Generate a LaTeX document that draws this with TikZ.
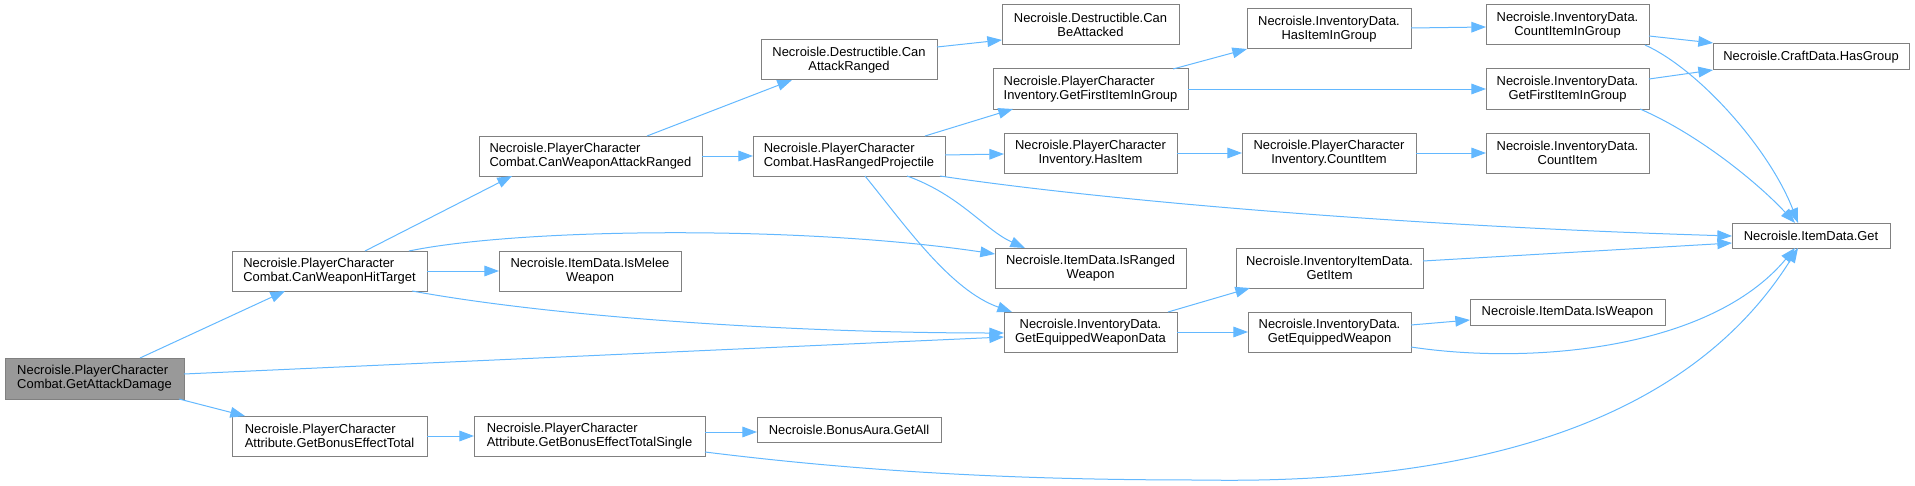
\documentclass[tikz,border=0pt]{standalone}
\usepackage{fontspec}
\setmainfont{Liberation Sans}
\usetikzlibrary{arrows.meta}
\definecolor{edgec}{HTML}{63B8FF}
\definecolor{boxc}{HTML}{808080}
\definecolor{rootc}{HTML}{999999}
\begin{document}
\begin{tikzpicture}[x=0.75pt,y=-0.75pt,
  fn/.style={draw=boxc, line width=0.75pt, fill=white, inner sep=0pt, outer sep=0pt,
    font=\fontsize{9.7}{10.3}\selectfont, align=center},
  fnl/.style={fn, align=left},
  sz/.style 2 args={minimum width=#1*0.75pt, minimum height=#2*0.75pt},
  edge/.style={draw=edgec, line width=0.75pt, -{Triangle[length=11pt,width=8pt]}}]
\useasboundingbox (0,0) rectangle (1915,485);

% nodes
\node[fnl, sz={179}{41}, fill=rootc] (gad) at (94.5,378.5) {Necroisle.PlayerCharacter\\Combat.GetAttackDamage};
\node[fnl, sz={195}{40}] (cwht) at (329.5,271) {Necroisle.PlayerCharacter\\Combat.CanWeaponHitTarget};
\node[fnl, sz={195}{40}] (gbet) at (329.5,436) {Necroisle.PlayerCharacter\\Attribute.GetBonusEffectTotal};
\node[fnl, sz={223}{40}] (cwar) at (590.5,156) {Necroisle.PlayerCharacter\\Combat.CanWeaponAttackRanged};
\node[fn, sz={176}{40}] (dcar) at (849,60) {Necroisle.Destructible.Can\\AttackRanged};
\node[fnl, sz={192}{40}] (hrp) at (849,156) {Necroisle.PlayerCharacter\\Combat.HasRangedProjectile};
\node[fn, sz={182}{40}] (melee) at (590,271) {Necroisle.ItemData.IsMelee\\Weapon};
\node[fnl, sz={231}{40}] (gbets) at (589.5,436) {Necroisle.PlayerCharacter\\Attribute.GetBonusEffectTotalSingle};
\node[fn, sz={184}{25}] (getall) at (849,429.5) {Necroisle.BonusAura.GetAll};
\node[fn, sz={177}{40}] (cba) at (1090.5,25) {Necroisle.Destructible.Can\\BeAttacked};
\node[fnl, sz={195}{40}] (pgfiig) at (1090.5,89) {Necroisle.PlayerCharacter\\Inventory.GetFirstItemInGroup};
\node[fn, sz={173}{40}] (phas) at (1090.5,153) {Necroisle.PlayerCharacter\\Inventory.HasItem};
\node[fn, sz={191}{40}] (irw) at (1090.5,268) {Necroisle.ItemData.IsRanged\\Weapon};
\node[fn, sz={173}{40}] (gewd) at (1090.5,332) {Necroisle.InventoryData.\\GetEquippedWeaponData};
\node[fn, sz={164}{40}] (hiig) at (1329,29) {Necroisle.InventoryData.\\HasItemInGroup};
\node[fn, sz={174}{40}] (pcount) at (1329,153) {Necroisle.PlayerCharacter\\Inventory.CountItem};
\node[fn, sz={187}{40}] (getitem) at (1329.5,268) {Necroisle.InventoryItemData.\\GetItem};
\node[fn, sz={163}{40}] (gew) at (1329.5,332) {Necroisle.InventoryData.\\GetEquippedWeapon};
\node[fn, sz={163}{40}] (ciig) at (1567.5,25) {Necroisle.InventoryData.\\CountItemInGroup};
\node[fn, sz={163}{40}] (igfiig) at (1567.5,89) {Necroisle.InventoryData.\\GetFirstItemInGroup};
\node[fn, sz={163}{40}] (icount) at (1567.5,153) {Necroisle.InventoryData.\\CountItem};
\node[fn, sz={195}{26}] (isweapon) at (1567.5,312) {Necroisle.ItemData.IsWeapon};
\node[fn, sz={196}{26}] (hasgroup) at (1811,57) {Necroisle.CraftData.HasGroup};
\node[fn, sz={158}{25}] (get) at (1811,235.5) {Necroisle.ItemData.Get};

% edges
\draw[edge] (gad.north -| 140,0) -- (cwht.south -| 285,0);
\draw[edge] (gad.east |- 0,374) -- (gewd.west |- 0,337);
\draw[edge] (gad.south -| 179,0) -- (gbet.north -| 245,0);
\draw[edge] (cwht.north -| 365,0) -- (cwar.south -| 512,0);
\draw[edge] (cwht.north -| 409,0) .. controls (520,228) and (800,225) .. (irw.west |- 0,254);
\draw[edge] (cwht.east) -- (melee.west);
\draw[edge] (cwht.south -| 412,0) .. controls (560,318) and (800,333) .. (gewd.west |- 0,333);
\draw[edge] (cwar.north -| 647,0) -- (dcar.south -| 792,0);
\draw[edge] (cwar.east) -- (hrp.west);
\draw[edge] (dcar.east |- 0,47) -- (cba.west |- 0,40);
\draw[edge] (hrp.north -| 925,0) -- (pgfiig.south -| 1013,0);
\draw[edge] (hrp.east |- 0,155) -- (phas.west |- 0,154);
\draw[edge] (hrp.south -| 940,0) .. controls (1100,200) and (1400,226) .. (get.west |- 0,236);
\draw[edge] (hrp.south -| 907,0) .. controls (960,195) and (985,230) .. (irw.north -| 1025,0);
\draw[edge] (hrp.south -| 865,0) .. controls (905,225) and (950,290) .. (gewd.north -| 1012,0);
\draw[edge] (pgfiig.north -| 1173,0) -- (hiig.south west);
\draw[edge] (pgfiig.east) -- (igfiig.west);
\draw[edge] (hiig.east |- 0,28) -- (ciig.west |- 0,27);
\draw[edge] (phas.east) -- (pcount.west);
\draw[edge] (pcount.east) -- (icount.west);
\draw[edge] (ciig.east |- 0,36) -- (hasgroup.west |- 0,43);
\draw[edge] (ciig.south -| 1645,0) .. controls (1700,70) and (1770,150) .. (get.north -| 1798,0);
\draw[edge] (igfiig.east |- 0,79) -- (hasgroup.south west);
\draw[edge] (igfiig.south -| 1640,0) .. controls (1700,135) and (1760,185) .. (get.north -| 1795,0);
\draw[edge] (gewd.north -| 1168,0) -- (getitem.south -| 1250,0);
\draw[edge] (gewd.east) -- (gew.west);
\draw[edge] (getitem.east |- 0,261) -- (get.west |- 0,243);
\draw[edge] (gew.east |- 0,325) -- (isweapon.west |- 0,320);
\draw[edge] (gew.east |- 0,347) .. controls (1530,365) and (1710,350) .. (get.south -| 1795,0);
\draw[edge] (gbet.east) -- (gbets.west);
\draw[edge] (gbets.east |- 0,432) -- (getall.west |- 0,432);
\draw[edge] (gbets.east |- 0,452) .. controls (850,470) and (1000,480) .. (1200,480)
  .. controls (1480,485) and (1690,420) .. (get.south -| 1798,0);
\end{tikzpicture}
\end{document}
